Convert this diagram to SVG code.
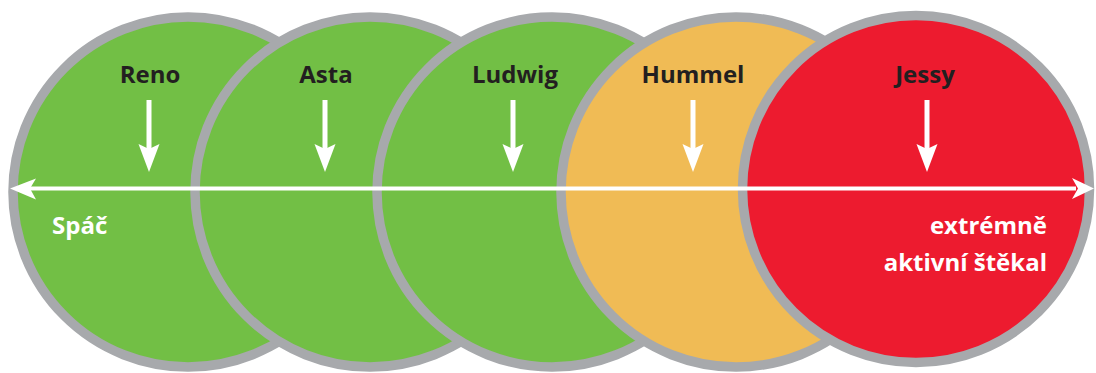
<svg xmlns="http://www.w3.org/2000/svg" width="1096" height="373" viewBox="0 0 1096 373">
<style>
.c{stroke:#a7a9ac;stroke-width:9.5}
.g{fill:#72bf45}
.o{fill:#f0bb55}
.r{fill:#ed1b2f}
.name{font-family:"Open Sans","Liberation Sans",sans-serif;font-weight:700;font-size:24px;fill:#231f20;text-anchor:middle}
.lbl{font-family:"Open Sans","Liberation Sans",sans-serif;font-weight:700;font-size:24px;fill:#ffffff}
.shaft{stroke:#ffffff;stroke-width:5;fill:none}
.head{fill:#ffffff}
</style>
<defs>
<g id="down">
<line class="shaft" x1="0" y1="100" x2="0" y2="150"/>
<path class="head" d="M-10.5,144 L0,149 L10.5,144 L0,172 Z"/>
</g>
</defs>
<rect width="1096" height="373" fill="#ffffff"/>
<g id="node-reno">
<circle class="c g" cx="188" cy="192" r="175"/>
<text class="name" x="150" y="83">Reno</text>
</g>
<g id="node-asta">
<circle class="c g" cx="370" cy="192" r="175"/>
<text class="name" x="326" y="83">Asta</text>
</g>
<g id="node-ludwig">
<circle class="c g" cx="552" cy="192" r="175"/>
<text class="name" x="515" y="83">Ludwig</text>
</g>
<g id="node-hummel">
<circle class="c o" cx="736" cy="192" r="175"/>
<text class="name" x="693" y="83">Hummel</text>
</g>
<g id="node-jessy">
<circle class="c r" cx="916" cy="189" r="173.5"/>
<text class="name" x="925" y="83">Jessy</text>
</g>
<g id="connectors">
<use href="#down" x="149"/>
<use href="#down" x="325"/>
<use href="#down" x="513"/>
<use href="#down" x="693"/>
<use href="#down" x="927"/>
<line x1="28" y1="188.5" x2="1076" y2="188.5" stroke="#ffffff" stroke-width="4"/>
<path class="head" d="M10,188.5 L36,178.5 L30,188.5 L36,199.5 Z"/>
<path class="head" d="M1094,188.5 L1072,178 L1078,188.5 L1072,199 Z"/>
</g>
<g id="labels">
<text class="lbl" x="52" y="234">Spáč</text>
<text class="lbl" x="1047" y="234" text-anchor="end">extrémně</text>
<text class="lbl" x="1047" y="271" text-anchor="end">aktivní štěkal</text>
</g>
</svg>
